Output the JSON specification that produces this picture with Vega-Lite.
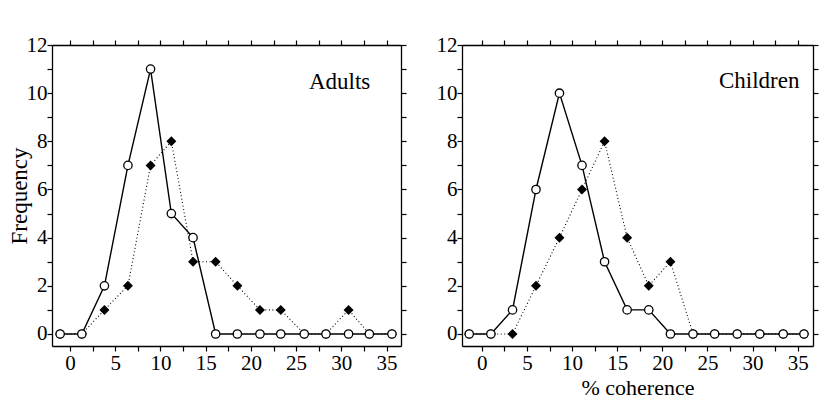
{
  "$schema": "https://vega.github.io/schema/vega-lite/v6.json",
  "padding": {"left": 8, "top": 34, "right": 0, "bottom": 0},
  "background": "white",
  "config": {
    "font": "Liberation Serif",
    "view": {"stroke": null},
    "axis": {
      "labelFont": "Liberation Serif",
      "titleFont": "Liberation Serif",
      "labelFontSize": 21,
      "titleFontSize": 23,
      "titleFontWeight": "normal",
      "labelColor": "black",
      "titleColor": "black",
      "domainColor": "black",
      "tickColor": "black",
      "domainWidth": 1.3,
      "tickWidth": 1.2,
      "tickSize": 5,
      "grid": false,
      "labelOverlap": false,
      "labelFlush": false
    }
  },
  "datasets": {
    "freq": [
      {"group": "Adults", "series": "open", "coherence": -1.1, "frequency": 0},
      {"group": "Adults", "series": "open", "coherence": 1.3, "frequency": 0},
      {"group": "Adults", "series": "open", "coherence": 3.8, "frequency": 2},
      {"group": "Adults", "series": "open", "coherence": 6.4, "frequency": 7},
      {"group": "Adults", "series": "open", "coherence": 8.9, "frequency": 11},
      {"group": "Adults", "series": "open", "coherence": 11.2, "frequency": 5},
      {"group": "Adults", "series": "open", "coherence": 13.6, "frequency": 4},
      {"group": "Adults", "series": "open", "coherence": 16.1, "frequency": 0},
      {"group": "Adults", "series": "open", "coherence": 18.5, "frequency": 0},
      {"group": "Adults", "series": "open", "coherence": 21.0, "frequency": 0},
      {"group": "Adults", "series": "open", "coherence": 23.3, "frequency": 0},
      {"group": "Adults", "series": "open", "coherence": 25.9, "frequency": 0},
      {"group": "Adults", "series": "open", "coherence": 28.3, "frequency": 0},
      {"group": "Adults", "series": "open", "coherence": 30.8, "frequency": 0},
      {"group": "Adults", "series": "open", "coherence": 33.1, "frequency": 0},
      {"group": "Adults", "series": "open", "coherence": 35.6, "frequency": 0},
      {"group": "Adults", "series": "filled", "coherence": -1.1, "frequency": 0},
      {"group": "Adults", "series": "filled", "coherence": 1.3, "frequency": 0},
      {"group": "Adults", "series": "filled", "coherence": 3.8, "frequency": 1},
      {"group": "Adults", "series": "filled", "coherence": 6.4, "frequency": 2},
      {"group": "Adults", "series": "filled", "coherence": 8.9, "frequency": 7},
      {"group": "Adults", "series": "filled", "coherence": 11.2, "frequency": 8},
      {"group": "Adults", "series": "filled", "coherence": 13.6, "frequency": 3},
      {"group": "Adults", "series": "filled", "coherence": 16.1, "frequency": 3},
      {"group": "Adults", "series": "filled", "coherence": 18.5, "frequency": 2},
      {"group": "Adults", "series": "filled", "coherence": 21.0, "frequency": 1},
      {"group": "Adults", "series": "filled", "coherence": 23.3, "frequency": 1},
      {"group": "Adults", "series": "filled", "coherence": 25.9, "frequency": 0},
      {"group": "Adults", "series": "filled", "coherence": 28.3, "frequency": 0},
      {"group": "Adults", "series": "filled", "coherence": 30.8, "frequency": 1},
      {"group": "Adults", "series": "filled", "coherence": 33.1, "frequency": 0},
      {"group": "Adults", "series": "filled", "coherence": 35.6, "frequency": 0},
      {"group": "Children", "series": "open", "coherence": -1.4, "frequency": 0},
      {"group": "Children", "series": "open", "coherence": 1.0, "frequency": 0},
      {"group": "Children", "series": "open", "coherence": 3.4, "frequency": 1},
      {"group": "Children", "series": "open", "coherence": 6.0, "frequency": 6},
      {"group": "Children", "series": "open", "coherence": 8.6, "frequency": 10},
      {"group": "Children", "series": "open", "coherence": 11.1, "frequency": 7},
      {"group": "Children", "series": "open", "coherence": 13.6, "frequency": 3},
      {"group": "Children", "series": "open", "coherence": 16.1, "frequency": 1},
      {"group": "Children", "series": "open", "coherence": 18.5, "frequency": 1},
      {"group": "Children", "series": "open", "coherence": 20.9, "frequency": 0},
      {"group": "Children", "series": "open", "coherence": 23.4, "frequency": 0},
      {"group": "Children", "series": "open", "coherence": 25.8, "frequency": 0},
      {"group": "Children", "series": "open", "coherence": 28.3, "frequency": 0},
      {"group": "Children", "series": "open", "coherence": 30.8, "frequency": 0},
      {"group": "Children", "series": "open", "coherence": 33.4, "frequency": 0},
      {"group": "Children", "series": "open", "coherence": 35.7, "frequency": 0},
      {"group": "Children", "series": "filled", "coherence": -1.4, "frequency": 0},
      {"group": "Children", "series": "filled", "coherence": 1.0, "frequency": 0},
      {"group": "Children", "series": "filled", "coherence": 3.4, "frequency": 0},
      {"group": "Children", "series": "filled", "coherence": 6.0, "frequency": 2},
      {"group": "Children", "series": "filled", "coherence": 8.6, "frequency": 4},
      {"group": "Children", "series": "filled", "coherence": 11.1, "frequency": 6},
      {"group": "Children", "series": "filled", "coherence": 13.6, "frequency": 8},
      {"group": "Children", "series": "filled", "coherence": 16.1, "frequency": 4},
      {"group": "Children", "series": "filled", "coherence": 18.5, "frequency": 2},
      {"group": "Children", "series": "filled", "coherence": 20.9, "frequency": 3},
      {"group": "Children", "series": "filled", "coherence": 23.4, "frequency": 0},
      {"group": "Children", "series": "filled", "coherence": 25.8, "frequency": 0},
      {"group": "Children", "series": "filled", "coherence": 28.3, "frequency": 0},
      {"group": "Children", "series": "filled", "coherence": 30.8, "frequency": 0},
      {"group": "Children", "series": "filled", "coherence": 33.4, "frequency": 0},
      {"group": "Children", "series": "filled", "coherence": 35.7, "frequency": 0}
    ]
  },
  "spacing": 29,
  "hconcat": [
    {
      "width": 349,
      "height": 301,
      "data": {"name": "freq"},
      "transform": [{"filter": "datum.group === 'Adults'"}],
      "layer": [
        {
          "transform": [{"filter": "datum.series === 'filled'"}],
          "mark": {"type": "line", "color": "black", "strokeWidth": 1.1, "strokeDash": [1, 2.5]},
          "encoding": {
            "x": {"field": "coherence", "type": "quantitative", "scale": {"domain": [-2, 36.6], "nice": false, "zero": false},
              "axis": {"orient": "bottom", "title": null, "values": [0, 2.5, 5, 7.5, 10, 12.5, 15, 17.5, 20, 22.5, 25, 27.5, 30, 32.5, 35], "labelExpr": "datum.value % 5 === 0 ? '' + datum.value : ''", "labelPadding": 1,
                "encode": {"ticks": {"update": {"y2": {"value": -5.5}}}}}},
            "y": {"field": "frequency", "type": "quantitative", "scale": {"domain": [-0.5, 12], "nice": false, "zero": false},
              "axis": {"orient": "left", "title": "Frequency", "values": [0, 1, 2, 3, 4, 5, 6, 7, 8, 9, 10, 11, 12], "labelExpr": "datum.value % 2 === 0 ? '' + datum.value : ''", "labelPadding": 0, "titlePadding": -5,
                "encode": {"ticks": {"update": {"x2": {"value": 5.5}}}}}}
          }
        },
        {
          "transform": [{"filter": "datum.series === 'open'"}],
          "mark": {"type": "line", "color": "black", "strokeWidth": 1.4},
          "encoding": {
            "x": {"field": "coherence", "type": "quantitative",
              "axis": {"orient": "top", "title": null, "labels": false, "values": [0, 2.5, 5, 7.5, 10, 12.5, 15, 17.5, 20, 22.5, 25, 27.5, 30, 32.5, 35],
                "encode": {"ticks": {"update": {"y2": {"value": 5.5}}}}}},
            "y": {"field": "frequency", "type": "quantitative",
              "axis": {"orient": "right", "title": null, "labels": false, "values": [0, 1, 2, 3, 4, 5, 6, 7, 8, 9, 10, 11, 12],
                "encode": {"ticks": {"update": {"x2": {"value": -5.5}}}}}}
          }
        },
        {
          "transform": [{"filter": "datum.series === 'filled'"}],
          "mark": {"type": "point", "shape": "diamond", "filled": true, "color": "black", "size": 100, "opacity": 1},
          "encoding": {
            "x": {"field": "coherence", "type": "quantitative", "axis": null},
            "y": {"field": "frequency", "type": "quantitative", "axis": null}
          }
        },
        {
          "transform": [{"filter": "datum.series === 'open'"}],
          "mark": {"type": "point", "shape": "circle", "filled": true, "fill": "white", "stroke": "black", "strokeWidth": 1.3, "size": 70, "opacity": 1},
          "encoding": {
            "x": {"field": "coherence", "type": "quantitative", "axis": null},
            "y": {"field": "frequency", "type": "quantitative", "axis": null}
          }
        },
        {
          "mark": {"type": "text", "text": "Adults", "align": "right", "baseline": "middle", "fontSize": 23, "font": "Liberation Serif", "color": "black"},
          "transform": [{"filter": "datum.series === 'open' && datum.coherence < 0"}],
          "encoding": {
            "x": {"datum": 33.2, "type": "quantitative", "axis": null},
            "y": {"datum": 10.45, "type": "quantitative", "axis": null}
          }
        }
      ]
    },
    {
      "width": 351,
      "height": 301,
      "data": {"name": "freq"},
      "transform": [{"filter": "datum.group === 'Children'"}],
      "layer": [
        {
          "transform": [{"filter": "datum.series === 'filled'"}],
          "mark": {"type": "line", "color": "black", "strokeWidth": 1.1, "strokeDash": [1, 2.5]},
          "encoding": {
            "x": {"field": "coherence", "type": "quantitative", "scale": {"domain": [-2.2, 36.7], "nice": false, "zero": false},
              "axis": {"orient": "bottom", "title": "% coherence", "titleFontSize": 22, "values": [0, 2.5, 5, 7.5, 10, 12.5, 15, 17.5, 20, 22.5, 25, 27.5, 30, 32.5, 35], "labelExpr": "datum.value % 5 === 0 ? '' + datum.value : ''", "labelPadding": 1, "titlePadding": 4,
                "encode": {"ticks": {"update": {"y2": {"value": -5.5}}}}}},
            "y": {"field": "frequency", "type": "quantitative", "scale": {"domain": [-0.5, 12], "nice": false, "zero": false},
              "axis": {"orient": "left", "title": null, "values": [0, 1, 2, 3, 4, 5, 6, 7, 8, 9, 10, 11, 12], "labelExpr": "datum.value % 2 === 0 ? '' + datum.value : ''", "labelPadding": 0,
                "encode": {"ticks": {"update": {"x2": {"value": 5.5}}}}}}
          }
        },
        {
          "transform": [{"filter": "datum.series === 'open'"}],
          "mark": {"type": "line", "color": "black", "strokeWidth": 1.4},
          "encoding": {
            "x": {"field": "coherence", "type": "quantitative",
              "axis": {"orient": "top", "title": null, "labels": false, "values": [0, 2.5, 5, 7.5, 10, 12.5, 15, 17.5, 20, 22.5, 25, 27.5, 30, 32.5, 35],
                "encode": {"ticks": {"update": {"y2": {"value": 5.5}}}}}},
            "y": {"field": "frequency", "type": "quantitative",
              "axis": {"orient": "right", "title": null, "labels": false, "values": [0, 1, 2, 3, 4, 5, 6, 7, 8, 9, 10, 11, 12],
                "encode": {"ticks": {"update": {"x2": {"value": -5.5}}}}}}
          }
        },
        {
          "transform": [{"filter": "datum.series === 'filled'"}],
          "mark": {"type": "point", "shape": "diamond", "filled": true, "color": "black", "size": 100, "opacity": 1},
          "encoding": {
            "x": {"field": "coherence", "type": "quantitative", "axis": null},
            "y": {"field": "frequency", "type": "quantitative", "axis": null}
          }
        },
        {
          "transform": [{"filter": "datum.series === 'open'"}],
          "mark": {"type": "point", "shape": "circle", "filled": true, "fill": "white", "stroke": "black", "strokeWidth": 1.3, "size": 70, "opacity": 1},
          "encoding": {
            "x": {"field": "coherence", "type": "quantitative", "axis": null},
            "y": {"field": "frequency", "type": "quantitative", "axis": null}
          }
        },
        {
          "mark": {"type": "text", "text": "Children", "align": "right", "baseline": "middle", "fontSize": 23, "font": "Liberation Serif", "color": "black"},
          "transform": [{"filter": "datum.series === 'open' && datum.coherence < 0"}],
          "encoding": {
            "x": {"datum": 35.2, "type": "quantitative", "axis": null},
            "y": {"datum": 10.5, "type": "quantitative", "axis": null}
          }
        }
      ]
    }
  ]
}
